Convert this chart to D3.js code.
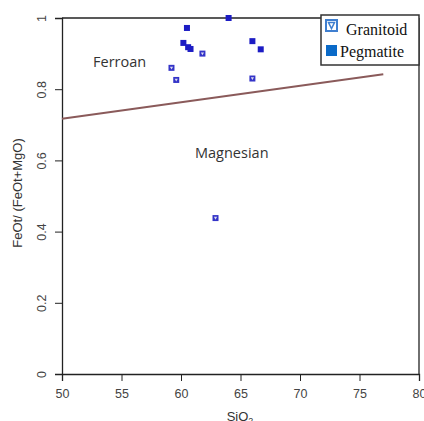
<!DOCTYPE html>
<html>
<head>
<meta charset="utf-8">
<script src="https://cdn.jsdelivr.net/npm/d3@7"></script>
<style>
  body { margin: 0; background: #fff; }
  .tick text { font-family: "Liberation Sans", Arial, sans-serif; font-size: 12.5px; fill: #444; }
  .lab { font-family: "Liberation Sans", Arial, sans-serif; font-size: 13px; fill: #333; }
  .field { font-family: "Open Sans", "Liberation Sans", sans-serif; font-size: 14.5px; fill: #333; }
  .leg { font-family: "Liberation Serif", "Times New Roman", serif; font-size: 16px; fill: #111; }
</style>
</head>
<body>
<svg width="424" height="421"></svg>
<script>
// Granitoid samples (SiO2, FeOt/(FeOt+MgO))
const granitoidSi = [61.8, 59.2, 59.6, 66.0, 62.9];
const granitoidFe = [0.90, 0.86, 0.826, 0.83, 0.438];

// Pegmatite samples
const pegmatiteSi = [64.0, 60.5, 60.2, 60.6, 60.8, 66.0, 66.7];
const pegmatiteFe = [1.0, 0.972, 0.93, 0.918, 0.913, 0.935, 0.912];

// Ferroan / magnesian boundary
const boundarySi = [50, 77];
const boundaryFe = [0.717, 0.842];

const xTicks = [50, 55, 60, 65, 70, 75, 80];
const yTicks = [0, 0.2, 0.4, 0.6, 0.8, 1];

const svg = d3.select('svg');

const pLeft = 62, pRight = 419, pTop = 18, pBottom = 374;

const x = d3.scaleLinear().domain([50, 80]).range([pLeft, pRight]);
const y = d3.scaleLinear().domain([0, 1]).range([pBottom, pTop]);

// axes
svg.append('g')
    .attr('transform', `translate(0, ${pBottom})`)
    .call(d3.axisBottom(x).tickValues(xTicks).tickSize(7).tickPadding(8))
    .call(g => g.select('.domain').attr('stroke', '#222').attr('stroke-width', 1.3))
    .call(g => g.selectAll('.tick line').attr('stroke', '#222'));

const yAxis = svg.append('g')
    .attr('transform', `translate(${pLeft}, 0)`)
    .call(d3.axisLeft(y).tickValues(yTicks).tickSize(7).tickFormat(d => d === 0 || d === 1 ? d : d.toFixed(1)))
    .call(g => g.select('.domain').attr('stroke', '#222').attr('stroke-width', 1.3))
    .call(g => g.selectAll('.tick line').attr('stroke', '#222'));

yAxis.selectAll('.tick text')
    .attr('x', 0).attr('dy', 0)
    .attr('text-anchor', 'middle')
    .attr('transform', 'translate(-16, 0) rotate(-90)');

// box top + right
svg.append('line').attr('x1', pLeft).attr('x2', pRight).attr('y1', pTop).attr('y2', pTop)
    .attr('stroke', '#222').attr('stroke-width', 1.3);
svg.append('line').attr('x1', pRight).attr('x2', pRight).attr('y1', pTop).attr('y2', pBottom)
    .attr('stroke', '#222').attr('stroke-width', 1.3);

// boundary line
const line = d3.line().x(d => x(d[0])).y(d => y(d[1]));
svg.append('path')
    .datum(boundarySi.map((s, i) => [s, boundaryFe[i]]))
    .attr('d', line)
    .attr('fill', 'none')
    .attr('stroke', '#8a5a5a')
    .attr('stroke-width', 1.8);

// field labels
svg.append('text').attr('class', 'field').attr('x', 93).attr('y', 67).text('Ferroan');
svg.append('text').attr('class', 'field').attr('x', 195).attr('y', 158).text('Magnesian');

// points
const s = 6;
svg.append('g').selectAll('rect')
    .data(pegmatiteSi.map((v, i) => [v, pegmatiteFe[i]]))
    .join('rect')
    .attr('x', d => x(d[0]) - s / 2)
    .attr('y', d => y(d[1]) - s / 2)
    .attr('width', s).attr('height', s)
    .attr('fill', '#1c1cc4');

const gran = svg.append('g').selectAll('g')
    .data(granitoidSi.map((v, i) => [v, granitoidFe[i]]))
    .join('g')
    .attr('transform', d => `translate(${x(d[0])}, ${y(d[1])})`);
gran.append('rect')
    .attr('x', -s / 2).attr('y', -s / 2).attr('width', s).attr('height', s)
    .attr('fill', '#3434c8');
gran.append('path')
    .attr('d', 'M-1.6,-1.2 L1.6,-1.2 L0,1.6 Z')
    .attr('fill', '#dde');

// axis titles
svg.append('text').attr('class', 'lab')
    .attr('transform', 'translate(22, 193) rotate(-90)')
    .attr('text-anchor', 'middle')
    .text('FeOt/ (FeOt+MgO)');

const xt = svg.append('text').attr('class', 'lab')
    .attr('x', 240).attr('y', 421)
    .attr('text-anchor', 'middle');
xt.append('tspan').text('SiO');
xt.append('tspan').attr('dy', 3).attr('font-size', 9).text('2');

// legend
const lg = svg.append('g');
lg.append('rect').attr('x', 321).attr('y', 15).attr('width', 98).attr('height', 50)
    .attr('fill', '#fff').attr('stroke', '#333').attr('stroke-width', 1.5);
lg.append('rect').attr('x', 326).attr('y', 20).attr('width', 11).attr('height', 11)
    .attr('fill', '#fff').attr('stroke', '#3f7fd0').attr('stroke-width', 2);
lg.append('path').attr('d', 'M328.5,22.5 L334.5,22.5 L331.5,28.5 Z')
    .attr('fill', 'none').attr('stroke', '#3f7fd0').attr('stroke-width', 1.5);
lg.append('rect').attr('x', 326).attr('y', 45).attr('width', 11).attr('height', 11)
    .attr('fill', '#0a6ac8');
lg.append('text').attr('class', 'leg').attr('x', 346).attr('y', 35).text('Granitoid');
lg.append('text').attr('class', 'leg').attr('x', 340).attr('y', 57).text('Pegmatite');
</script>
</body>
</html>
